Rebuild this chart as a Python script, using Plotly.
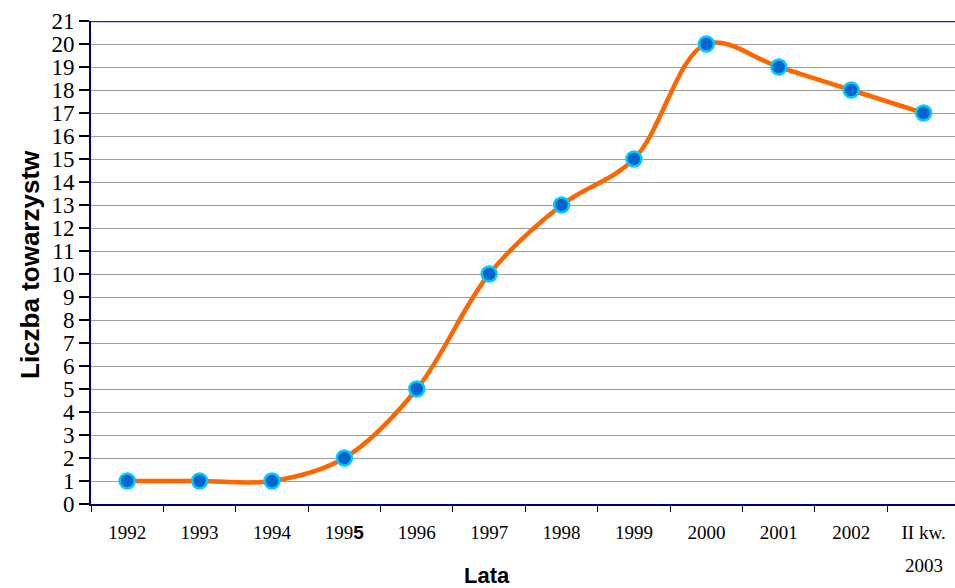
import plotly.graph_objects as go

categories = ["1992", "1993", "1994",
              "199<span style='font-family:Liberation Sans;font-weight:bold'>5</span>",
              "1996", "1997", "1998", "1999", "2000", "2001", "2002", "II kw."]
last_label_line2 = "2003"
values = [1, 1, 1, 2, 5, 10, 13, 15, 20, 19, 18, 17]
y_ticks = list(range(0, 22))

fig = go.Figure()
fig.add_trace(go.Scatter(
    x=list(range(len(categories))), y=values,
    mode="lines+markers",
    line=dict(color="#FF6600", width=4.5, shape="spline", smoothing=1),
    marker=dict(size=15, color="#0066CC", line=dict(color="#00CCFF", width=2.5)),
    cliponaxis=False,
    showlegend=False,
))
fig.add_trace(go.Scatter(x=[0], y=[0], xaxis="x2", mode="markers",
                         marker=dict(opacity=0), showlegend=False, hoverinfo="skip"))

fig.update_layout(
    width=955, height=588,
    margin=dict(l=91, r=0, t=21, b=84, autoexpand=False),
    plot_bgcolor="white", paper_bgcolor="white",
    xaxis=dict(
        range=[-0.5, 11.434], automargin=False,
        tickmode="array",
        tickvals=list(range(len(categories))),
        ticktext=categories,
        showgrid=False, zeroline=False,
        showline=True, linecolor="#000066", linewidth=2,
        ticks="", ticklabelstandoff=10,
        tickfont=dict(family="Liberation Serif", size=19, color="black"),
    ),
    xaxis2=dict(
        overlaying="x", range=[-0.5, 11.434], automargin=False,
        tickmode="array", tickvals=[i + 0.5 for i in range(-1, 12)],
        ticktext=[""] * 13, ticks="outside", ticklen=7, tickcolor="#000033",
        showgrid=False, zeroline=False, showline=False,
    ),
    yaxis=dict(
        range=[0, 21], automargin=False,
        tickmode="array", tickvals=y_ticks,
        ticks="outside", ticklen=10, tickcolor="#000033", tickwidth=1.5,
        showgrid=True, gridcolor="#A0A0A0", gridwidth=1,
        zeroline=False,
        showline=True, linecolor="#000066", linewidth=2,
        tickfont=dict(family="Liberation Serif", size=23, color="black"),
    ),
    shapes=[dict(type="line", xref="paper", yref="y", x0=0, x1=1, y0=21, y1=21,
                 line=dict(color="#2E2E99", width=2.5))],
    annotations=[
        dict(text="<b>Liczba towarzystw</b>", xref="paper", yref="paper",
             x=(30 - 91) / 864, y=(504 - 265) / 483, textangle=-90, showarrow=False,
             xanchor="center", yanchor="middle",
             font=dict(family="Liberation Sans", size=26, color="black")),
        dict(text="<b>Lata</b>", xref="paper", yref="paper",
             x=(487 - 91) / 864, y=-(575 - 504) / 483, showarrow=False,
             xanchor="center", yanchor="middle",
             font=dict(family="Liberation Sans", size=22, color="black")),
        dict(text=last_label_line2, xref="x", yref="paper",
             x=len(categories) - 1, y=-(565 - 504) / 483, showarrow=False,
             xanchor="center", yanchor="middle",
             font=dict(family="Liberation Serif", size=19, color="black")),
    ],
)

fig.write_html("out.html", config={"displayModeBar": False},
               post_script="document.body.style.margin='0';document.body.style.overflow='hidden';")
